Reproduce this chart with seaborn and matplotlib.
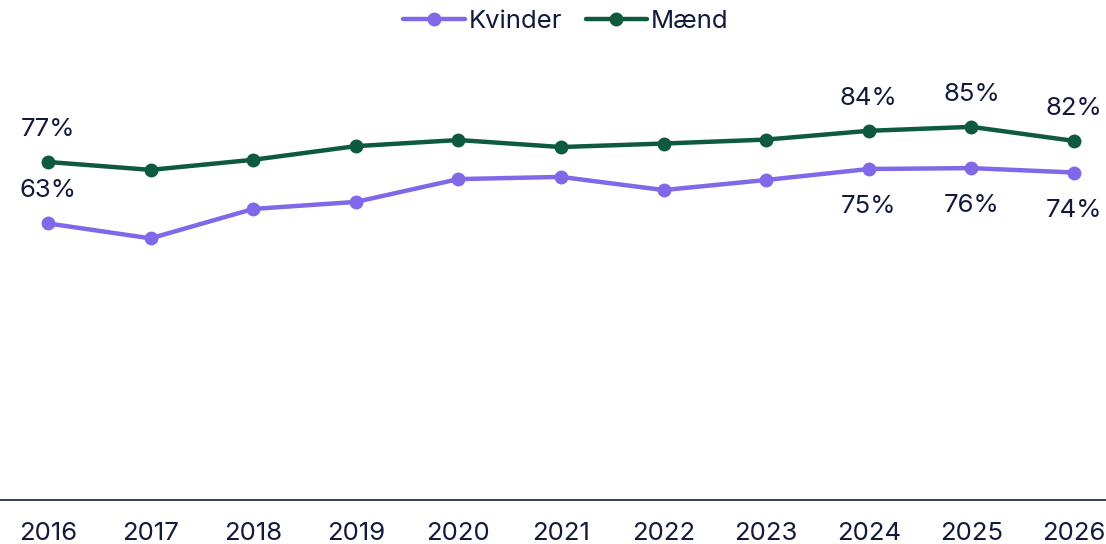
import pandas as pd
import numpy as np
import seaborn as sns
import matplotlib.pyplot as plt

years = [2016, 2017, 2018, 2019, 2020, 2021, 2022, 2023, 2024, 2025, 2026]
kvinder = [63, 59.6, 66.3, 67.9, 73.1, 73.6, 70.6, 72.9, 75.4, 75.6, 74.6]
maend = [77, 75.2, 77.5, 80.6, 82.0, 80.4, 81.2, 82.1, 84.1, 85.0, 81.8]
kv_labels = {2016: "63%", 2024: "75%", 2025: "76%", 2026: "74%"}
ma_labels = {2016: "77%", 2024: "84%", 2025: "85%", 2026: "82%"}

df = pd.DataFrame({
    "year": years * 2,
    "value": kvinder + maend,
    "group": ["Kvinder"] * len(years) + ["Mænd"] * len(years),
})

sns.set_theme(style="white")
plt.rcParams['font.family'] = ['Inter', 'DejaVu Sans']
text_col = "#121a3b"
palette = {"Kvinder": "#8068e8", "Mænd": "#0e5a3e"}
fs = 18.5

fig = plt.figure(figsize=(11.06, 5.44), dpi=100)
ax = fig.add_axes([0, 1 - 500 / 544, 1, (500 - 61) / 544])
sns.lineplot(data=df, x="year", y="value", hue="group", palette=palette,
             marker="o", markersize=10, linewidth=3.2, markeredgewidth=0, ax=ax)

# value labels (only first year and last three)
for yr, lab in ma_labels.items():
    v = maend[years.index(yr)]
    ax.annotate(lab, (yr, v), xytext=(0, 23.5), textcoords="offset points",
                ha="center", va="center", fontsize=fs, color=text_col)
for yr, lab in kv_labels.items():
    v = kvinder[years.index(yr)]
    dy = 23.5 if yr == 2016 else -27
    ax.annotate(lab, (yr, v), xytext=(0, dy), textcoords="offset points",
                ha="center", va="center", fontsize=fs, color=text_col)

px = (2026 - 2016) / (1074 - 48)
ax.set_xlim(2016 - 48 * px, 2026 + 32 * px)
ax.set_ylim(0, 100)
ax.set_xticks(years)
ax.set_xticklabels([str(y) for y in years])
ax.tick_params(axis="x", length=0, pad=16, labelsize=fs, labelcolor=text_col)
ax.set_yticks([])
ax.set_xlabel("")
ax.set_ylabel("")
for s in ["top", "left", "right"]:
    ax.spines[s].set_visible(False)
ax.spines["bottom"].set_color(text_col)
ax.spines["bottom"].set_linewidth(1.2)

leg = ax.legend(loc="center", bbox_to_anchor=(566 / 1106, (544 - 21) / 544),
                bbox_transform=fig.transFigure, ncol=2, frameon=False,
                fontsize=fs, handlelength=2.4, handletextpad=0.15,
                columnspacing=0.9, labelcolor=text_col)

fig.savefig("out.png", dpi=100)
